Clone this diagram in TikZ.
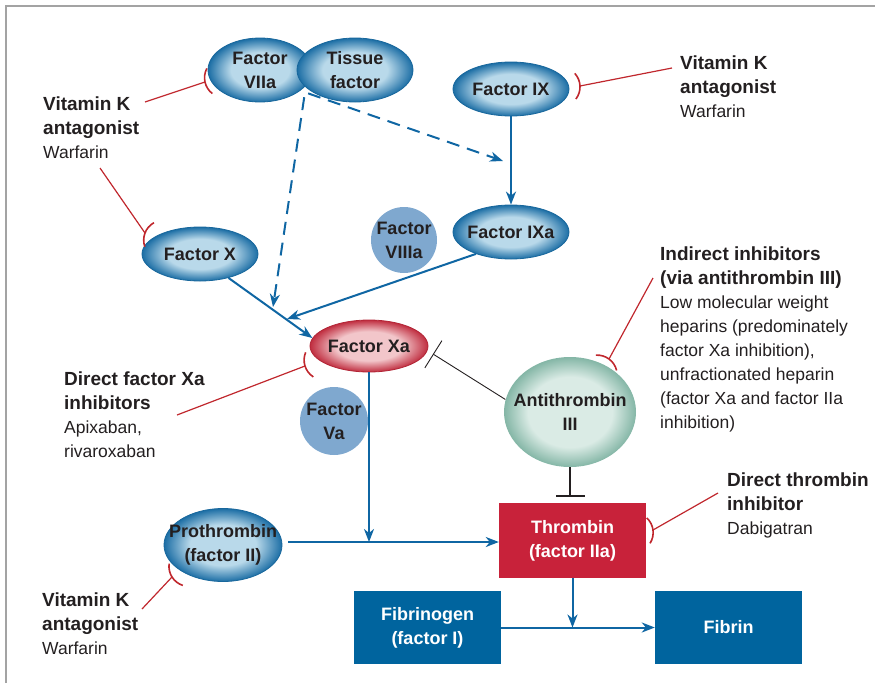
\documentclass[tikz,border=0pt]{standalone}
\usepackage{fontspec}
\setmainfont{Liberation Sans}
\usetikzlibrary{shapes.geometric,arrows.meta,calc}
\definecolor{txt}{HTML}{231F20}
\definecolor{flow}{HTML}{0F66A3}
\definecolor{inhred}{HTML}{C0272D}
\definecolor{thr}{HTML}{C8223A}
\definecolor{fbox}{HTML}{00649E}
\definecolor{circ}{HTML}{7FA8CF}
\definecolor{framec}{HTML}{A3A3A3}
\definecolor{blueIn}{HTML}{B9D9EA}
\definecolor{blueOut}{HTML}{1C6EA5}
\definecolor{blueBd}{HTML}{18679C}
\definecolor{redIn}{HTML}{F2C6CA}
\definecolor{redOut}{HTML}{C02E40}
\definecolor{redBd}{HTML}{B22536}
\definecolor{greenIn}{HTML}{DAEBE5}
\definecolor{greenOut}{HTML}{84B6A6}
\pgfdeclareradialshading{blueell}{\pgfpoint{0bp}{0bp}}{color(0bp)=(blueIn); color(14bp)=(blueIn); color(25bp)=(blueOut); color(50bp)=(blueOut)}
\pgfdeclareradialshading{redell}{\pgfpoint{0bp}{0bp}}{color(0bp)=(redIn); color(14bp)=(redIn); color(25bp)=(redOut); color(50bp)=(redOut)}
\pgfdeclareradialshading{greenell}{\pgfpoint{0bp}{0bp}}{color(0bp)=(greenIn); color(16bp)=(greenIn); color(25bp)=(greenOut); color(50bp)=(greenOut)}
\newcommand\hd{\bfseries\fontsize{19}{24}\selectfont}
\newcommand\inhib[3]{%
  \draw[inh] (#1) -- (#2);
  \draw[inh, line width=1.6pt] let \p1=($(#3)-(#2)$), \n1={atan2(\y1,\x1)} in
    ($(#2)+(\n1:20pt)+(\n1+220:20pt)$) arc[start angle=\n1+220, end angle=\n1+140, radius=20pt];
}
\tikzset{
  ell/.style={ellipse, draw=blueBd, line width=0.8pt, shade, shading=blueell, text=txt,
    font=\bfseries\fontsize{18}{24}\selectfont, align=center, inner ysep=0pt, inner xsep=-16pt},
  dot/.style={circle, fill=circ, text=txt, font=\bfseries\fontsize{18}{24}\selectfont,
    align=center, inner sep=0pt},
  box/.style={rectangle, text=white, font=\bfseries\fontsize{18}{24}\selectfont, align=center,
    inner sep=0pt, minimum width=147pt},
  lbl/.style={anchor=north west, align=left, inner sep=0pt, text=txt,
    font=\fontsize{17.5}{24}\selectfont},
  arr/.style={draw=flow, line width=2pt, -{Stealth[length=13pt,width=10pt,inset=4pt]}},
  dsh/.style={arr, dash pattern=on 13pt off 8pt},
  inh/.style={draw=inhred, line width=1.2pt},
  tline/.style={draw=txt, line width=0.9pt, -{Bar[width=32pt]}},
}
\begin{document}
\begin{tikzpicture}[x=1pt,y=1pt]
\useasboundingbox (0,0) rectangle (875,-683);
\draw[framec, line width=2pt] (6,-683) -- (6,-6) -- (875,-6);

% nodes
\node[ell, minimum width=104pt, minimum height=64pt] (VIIa) at (260,-70) {Factor\\VIIa};
\node[ell, minimum width=116pt, minimum height=64pt] (TF) at (355,-70) {Tissue\\factor};
\node[ell, minimum width=116pt, minimum height=54pt] (IX) at (511,-89) {Factor IX};
\node[ell, minimum width=116pt, minimum height=54pt] (IXa) at (511,-232) {Factor IXa};
\node[ell, minimum width=116pt, minimum height=54pt] (X) at (200,-254) {Factor X};
\node[dot, minimum size=66pt] (VIIIa) at (404,-240) {Factor\\VIIIa};
\node[ell, draw=redBd, shading=redell, minimum width=118pt, minimum height=52pt] (Xa) at (369,-346) {Factor Xa};
\node[dot, minimum size=68pt] (Va) at (334,-421) {Factor\\Va};
\node[ell, draw=none, shading=greenell, minimum width=132pt, minimum height=110pt] (AT) at (570,-412) {Antithrombin\\III};
\node[ell, minimum width=118pt, minimum height=73pt] (Pro) at (223,-545) {Prothrombin\\(factor II)};
\node[box, fill=thr, minimum height=75pt] (Thr) at (572.5,-540.5) {Thrombin\\(factor IIa)};
\node[box, fill=fbox, minimum height=73pt] (Fbg) at (427.5,-627.5) {Fibrinogen\\(factor I)};
\node[box, fill=fbox, minimum height=73pt] (Fbn) at (728.5,-627.5) {Fibrin};

% labels
\node[lbl] (vk1) at (43,-97) {{\hd Vitamin K}\\{\hd antagonist}\\Warfarin};
\node[lbl] (vk2) at (680,-56) {{\hd Vitamin K}\\{\hd antagonist}\\Warfarin};
\node[lbl] (ind) at (660,-247) {{\hd Indirect inhibitors}\\{\hd (via antithrombin III)}\\Low molecular weight\\heparins (predominately\\factor Xa inhibition),\\unfractionated heparin\\(factor Xa and factor IIa\\inhibition)};
\node[lbl] (dxa) at (64,-372) {{\hd Direct factor Xa}\\{\hd inhibitors}\\Apixaban,\\rivaroxaban};
\node[lbl] (dth) at (727,-473) {{\hd Direct thrombin}\\{\hd inhibitor}\\Dabigatran};
\node[lbl] (vk3) at (42,-593) {{\hd Vitamin K}\\{\hd antagonist}\\Warfarin};

% free ends
\coordinate (j1) at (503,-161);
\coordinate (j2) at (273,-307);
\coordinate (j3) at (287,-319);
\coordinate (hl) at (288,-542);
\coordinate (tb) at (433,-354);
\coordinate (bt) at (570,-497);

% flow connectors
\draw[arr] (IX.south) -- (IXa.north);
\draw[dsh] ([shift={(-3,-2)}]TF.206) -- (j1);
\draw[dsh] ([shift={(-12,-3)}]TF.212) -- (j2);
\draw[arr] (X.-40) -- (Xa.172);
\draw[arr] (IXa.212) -- (j3);
\draw[arr] (Xa.south) -- (Xa.south |- hl);
\draw[arr] (hl) -- (hl -| Thr.west);
\draw[arr] (Thr.south) -- (Thr.south |- Fbg.east);
\draw[arr] (Fbg.east) -- (Fbn.west);

% antithrombin inhibition
\draw[tline] (AT.169) -- (tb);
\draw[draw=txt, line width=2.4pt, -{Bar[width=29pt]}] (AT.south) -- (bt);

% drug inhibition
\coordinate (i1s) at (145,-102); \coordinate (i1e) at (205,-82);
\coordinate (i2s) at (100,-168); \coordinate (i2e) at (145,-233);
\coordinate (i3s) at (672,-68);  \coordinate (i3e) at (580,-86);
\coordinate (i4s) at (177,-415); \coordinate (i4e) at (305,-366);
\coordinate (i5s) at (653,-278); \coordinate (i5e) at (609,-359);
\coordinate (i6s) at (718,-493); \coordinate (i6e) at (653,-530);
\coordinate (i7s) at (142,-609); \coordinate (i7e) at (172,-577);
\inhib{i1s}{i1e}{VIIa}
\inhib{i2s}{i2e}{X}
\inhib{i3s}{i3e}{IX}
\inhib{i4s}{i4e}{Xa}
\inhib{i5s}{i5e}{AT}
\inhib{i6s}{i6e}{Thr}
\inhib{i7s}{i7e}{Pro}
\end{tikzpicture}
\end{document}
